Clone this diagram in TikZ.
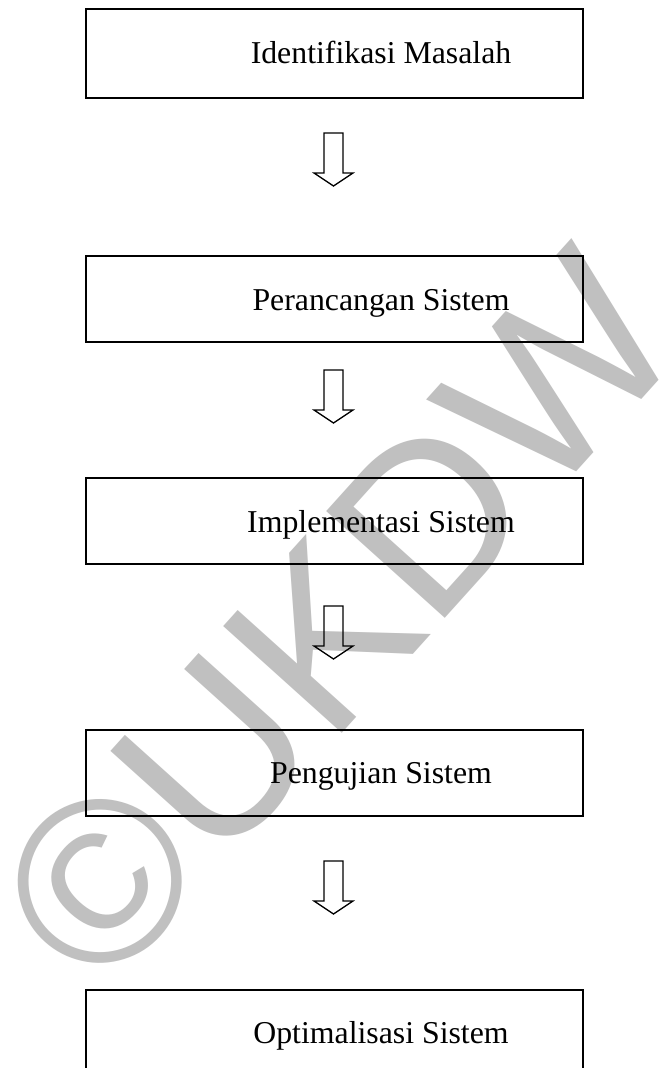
\documentclass[tikz,border=0pt]{standalone}
\usepackage{fontspec}
\setmainfont{Liberation Serif}
\newfontfamily\wmfont{Liberation Sans}
\definecolor{wmgray}{RGB}{192,192,192}
\begin{document}
\begin{tikzpicture}[x=1pt,y=-1pt,
  stagebox/.style={draw=black, line width=1.6pt, minimum width=497pt, minimum height=86pt, inner sep=0pt, anchor=north west},
  stagelabel/.style={anchor=base, inner sep=0pt, font=\fontsize{31.8}{38}\selectfont},
  watermark/.style={anchor=base, inner sep=0pt, text=wmgray, font=\wmfont\fontsize{232}{232}\selectfont},
  blockarrow/.pic={\draw[line width=1.3pt, line join=miter] (-9.5,-53) -- (9.5,-53) -- (9.5,-13) -- (19.5,-13) -- (0,0) -- (-19.5,-13) -- (-9.5,-13) -- cycle;}
]
\useasboundingbox (0,0) rectangle (667,1068);
\fill[white] (0,0) rectangle (667,1068);
% watermark
\node[watermark, rotate=48] (wm) at (397,672) {©UKDW};
% boxes
\node[stagebox, minimum height=89pt] (b1) at (85,8) {};
\node[stagebox] (b2) at (85,255) {};
\node[stagebox] (b3) at (85,477) {};
\node[stagebox] (b4) at (85,729) {};
\node[stagebox] (b5) at (85,989) {};
% labels
\node[stagelabel] (t1) at (381,63) {Identifikasi Masalah};
\node[stagelabel] (t2) at (381,310) {Perancangan Sistem};
\node[stagelabel] (t3) at (381,532) {Implementasi Sistem};
\node[stagelabel] (t4) at (381,783) {Pengujian Sistem};
\node[stagelabel] (t5) at (381,1043) {Optimalisasi Sistem};
% block arrows
\coordinate (a1) at (333.5,186);
\coordinate (a2) at (333.5,423);
\coordinate (a3) at (333.5,659);
\coordinate (a4) at (333.5,914);
\pic at (a1) {blockarrow};
\pic at (a2) {blockarrow};
\pic at (a3) {blockarrow};
\pic at (a4) {blockarrow};
\end{tikzpicture}
\end{document}
